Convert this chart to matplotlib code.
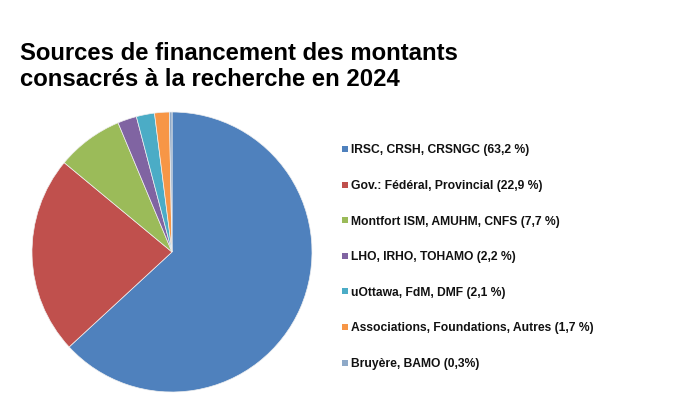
import matplotlib
matplotlib.use("Agg")
import matplotlib.pyplot as plt
from matplotlib.patches import Rectangle

title = "Sources de financement des montants\nconsacrés à la recherche en 2024"
labels = [
    "IRSC, CRSH, CRSNGC (63,2 %)",
    "Gov.: Fédéral, Provincial (22,9 %)",
    "Montfort ISM, AMUHM, CNFS (7,7 %)",
    "LHO, IRHO, TOHAMO (2,2 %)",
    "uOttawa, FdM, DMF (2,1 %)",
    "Associations, Foundations, Autres (1,7 %)",
    "Bruyère, BAMO (0,3%)",
]
values = [63.2, 22.9, 7.7, 2.2, 2.1, 1.7, 0.3]
colors = ["#4F81BD", "#C0504D", "#9BBB59", "#8064A2", "#4BACC6", "#F79646", "#8EA9C8"]

W, H = 675, 417
fig = plt.figure(figsize=(W / 100, H / 100), dpi=100)
fig.patch.set_facecolor("white")

# pie axes: center (172, 252) px from top, radius 140
cx, cy, r = 172, 252, 140
ax = fig.add_axes([(cx - r) / W, (H - cy - r) / H, 2 * r / W, 2 * r / H])
wedges, _ = ax.pie(values, colors=colors, startangle=90, counterclock=False,
                   wedgeprops=dict(edgecolor="#f0f0f0", linewidth=0.5))
ax.set_xlim(-1, 1)
ax.set_ylim(-1, 1)
ax.set_aspect("equal")
ax.axis("off")

fig.text(20 / W, 1 - 42 / H, title, ha="left", va="top", fontsize=17.2,
         fontweight="bold", family="Liberation Sans", linespacing=1.17)

# legend
y0, dy = 149, 35.6
for i, (lab, w) in enumerate(zip(labels, wedges)):
    y = y0 + i * dy
    s = 6
    fig.patches.append(Rectangle(((345 - s / 2) / W, (H - y - s / 2) / H), s / W, s / H,
                                 transform=fig.transFigure, facecolor=w.get_facecolor(),
                                 edgecolor="none"))
    fig.text(351 / W, 1 - y / H, lab, ha="left", va="center_baseline", fontsize=8.75,
             fontweight="bold", family="Liberation Sans", color="#111111")

fig.savefig("out.png", dpi=100)
